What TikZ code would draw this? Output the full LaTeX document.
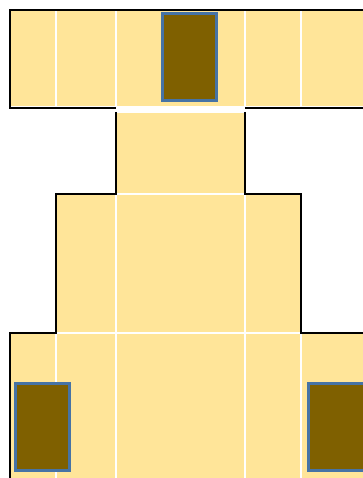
\documentclass[tikz,border=0pt]{standalone}
\usepackage{tikz}

\definecolor{roomfill}{HTML}{FFE599}
\definecolor{blockfill}{HTML}{7F6000}
\definecolor{blockline}{RGB}{70,115,165}

\tikzset{
  cell/.style={fill=roomfill, draw=white, line width=2pt},
  wall/.style={draw=black, line width=2.5pt},
  block/.style={fill=blockfill, draw=blockline, line width=3pt}
}

\begin{document}
\begin{tikzpicture}[x=1pt,y=-1pt]

  \useasboundingbox (0,0) rectangle (363,478);
  \clip (0,0) rectangle (363,478);

  % top band
  \filldraw[cell] (10,10) rectangle (56,107);
  \filldraw[cell] (56,10) rectangle (116,107);
  \filldraw[cell] (116,10) rectangle (245,107);
  \filldraw[cell] (245,10) rectangle (301,107);
  \filldraw[cell] (301,10) rectangle (370,107);

  % narrow part
  \filldraw[cell] (116,112) rectangle (245,194);

  % middle part
  \filldraw[cell] (56,194) rectangle (116,333);
  \filldraw[cell] (116,194) rectangle (245,333);
  \filldraw[cell] (245,194) rectangle (301,333);

  % bottom band
  \filldraw[cell] (10,333) rectangle (56,490);
  \filldraw[cell] (56,333) rectangle (116,490);
  \filldraw[cell] (116,333) rectangle (245,490);
  \filldraw[cell] (245,333) rectangle (301,490);
  \filldraw[cell] (301,333) rectangle (370,490);

  % outline
  \draw[wall] (370,10) -- (10,10) -- (10,108) -- (116,108);
  \draw[wall] (245,108) -- (370,108);
  \draw[wall] (116,112) -- (116,194) -- (56,194) -- (56,333) -- (10,333) -- (10,490);
  \draw[wall] (245,112) -- (245,194) -- (301,194) -- (301,333) -- (370,333);

  % dark blocks
  \filldraw[block] (162,14) rectangle (216,101);
  \filldraw[block] (15,383) rectangle (69,470);
  \filldraw[block] (308,383) rectangle (366,470);

\end{tikzpicture}
\end{document}
